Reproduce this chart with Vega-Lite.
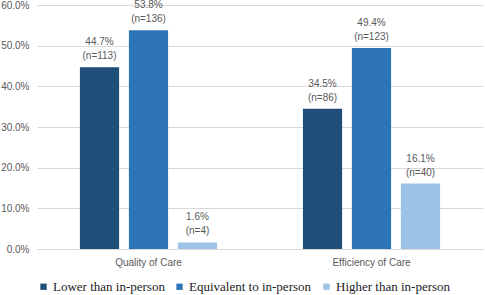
{
  "$schema": "https://vega.github.io/schema/vega-lite/v6.json",
  "width": 446,
  "height": 244,
  "autosize": {"type": "none"},
  "padding": {"left": 37, "top": 5, "right": 2, "bottom": 46},
  "background": "white",
  "config": {"view": {"stroke": null}},
  "data": {"values": [
    {"aspect": "Quality of Care", "rating": "Lower than in-person", "pct": 0.447, "n": "(n=113)", "ord": 1},
    {"aspect": "Quality of Care", "rating": "Equivalent to in-person", "pct": 0.538, "n": "(n=136)", "ord": 2},
    {"aspect": "Quality of Care", "rating": "Higher than in-person", "pct": 0.016, "n": "(n=4)", "ord": 3},
    {"aspect": "Efficiency of Care", "rating": "Lower than in-person", "pct": 0.345, "n": "(n=86)", "ord": 1},
    {"aspect": "Efficiency of Care", "rating": "Equivalent to in-person", "pct": 0.494, "n": "(n=123)", "ord": 2},
    {"aspect": "Efficiency of Care", "rating": "Higher than in-person", "pct": 0.161, "n": "(n=40)", "ord": 3}
  ]},
  "encoding": {
    "x": {"field": "aspect", "type": "nominal", "sort": ["Quality of Care", "Efficiency of Care"],
      "scale": {"paddingInner": 0, "paddingOuter": 0},
      "axis": {"title": null, "labelAngle": 0, "ticks": false, "domainColor": "#d9d9d9", "labelColor": "#595959", "labelFont": "Liberation Sans", "labelFontSize": 10, "labelPadding": 8}},
    "xOffset": {"field": "rating", "type": "nominal", "sort": ["Lower than in-person", "Equivalent to in-person", "Higher than in-person"],
      "scale": {"paddingInner": 0.2, "paddingOuter": 0.876}},
    "y": {"field": "pct", "type": "quantitative",
      "scale": {"domain": [0, 0.6]},
      "axis": {"title": null, "format": ".1%", "values": [0, 0.1, 0.2, 0.3, 0.4, 0.5, 0.6], "domain": false, "ticks": false, "gridColor": "#d9d9d9", "labelColor": "#595959", "labelFont": "Liberation Sans", "labelFontSize": 10, "labelPadding": 8}}
  },
  "layer": [
    {"mark": {"type": "bar"},
      "encoding": {"color": {"field": "rating", "type": "nominal",
        "sort": ["Lower than in-person", "Equivalent to in-person", "Higher than in-person"],
        "scale": {"range": ["#1f4e79", "#2e75b6", "#9dc3e6"]},
        "legend": {"title": null, "orient": "none", "legendX": 0, "legendY": 275, "direction": "horizontal", "symbolType": "square", "symbolSize": 40, "symbolStrokeWidth": 0, "labelFont": "Liberation Serif", "labelFontSize": 13, "labelColor": "#222222", "columnPadding": 8, "labelOffset": 3}}}},
    {"mark": {"type": "text", "baseline": "bottom", "dy": -6, "font": "Liberation Sans", "fontSize": 10, "color": "#595959"},
      "encoding": {"text": {"field": "n"}}},
    {"mark": {"type": "text", "baseline": "bottom", "dy": -20, "font": "Liberation Sans", "fontSize": 10, "color": "#595959"},
      "encoding": {"text": {"field": "pct", "format": ".1%"}}}
  ]
}
